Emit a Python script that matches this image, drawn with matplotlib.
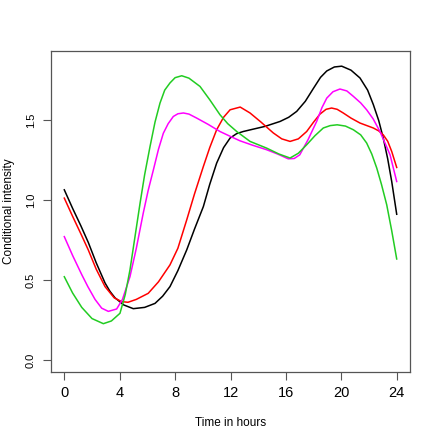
import matplotlib
matplotlib.use("Agg")
import matplotlib.pyplot as plt

# values (hours, intensity)
black_t = [0, 0.6, 1.2, 1.74, 2.3, 2.94, 3.3, 3.66, 4.3, 4.98, 5.8, 6.55, 7.1, 7.63, 8.2,
           8.84, 9.4, 10.04, 10.5, 11.0, 11.5, 11.97, 12.45, 12.92, 13.6, 14.49, 15.58,
           16.2, 16.78, 17.4, 17.98, 18.5, 18.95, 19.5, 20.03, 20.7, 21.35, 21.9, 22.31,
           22.7, 23.03, 23.35, 23.64, 24]
black_v = [1.066, 0.95, 0.84, 0.735, 0.61, 0.483, 0.43, 0.39, 0.345, 0.322, 0.33, 0.355,
           0.40, 0.46, 0.56, 0.69, 0.82, 0.961, 1.10, 1.233, 1.33, 1.39, 1.418, 1.431,
           1.445, 1.463, 1.494, 1.52, 1.557, 1.62, 1.70, 1.77, 1.81, 1.835, 1.84, 1.815,
           1.766, 1.69, 1.60, 1.50, 1.39, 1.26, 1.118, 0.913]

red_t = [0, 0.6, 1.2, 1.73, 2.3, 2.94, 3.6, 4.14, 4.6, 5.2, 6.06, 6.8, 7.63, 8.2, 8.84, 9.4,
         10.04, 10.5, 11.0, 11.5, 11.97, 12.7, 13.41, 14.2, 15.09, 15.7, 16.3, 16.9, 17.5,
         18.0, 18.46, 18.9, 19.3, 19.7, 20.14, 20.7, 21.35, 22.31, 22.7, 23.03, 23.35,
         23.64, 24]
red_v = [1.014, 0.90, 0.79, 0.69, 0.57, 0.46, 0.39, 0.366, 0.362, 0.38, 0.418, 0.49, 0.596,
         0.70, 0.878, 1.04, 1.212, 1.33, 1.442, 1.52, 1.567, 1.584, 1.547, 1.49, 1.422,
         1.385, 1.369, 1.385, 1.431, 1.49, 1.54, 1.57, 1.578, 1.57, 1.547, 1.515, 1.484,
         1.453, 1.435, 1.41, 1.37, 1.306, 1.206]

magenta_t = [0, 0.6, 1.26, 1.7, 2.22, 2.7, 3.18, 3.78, 4.2, 4.74, 5.2, 5.7, 6.05, 6.43, 6.8,
             7.15, 7.5, 7.87, 8.2, 8.6, 9.0, 9.56, 10.4, 11.24, 12.0, 12.68, 13.6, 14.61,
             15.4, 16.17, 16.6, 17.0, 17.6, 18.22, 18.6, 18.95, 19.4, 19.9, 20.4, 20.87,
             21.4, 21.83, 22.3, 22.79, 23.2, 23.52, 24]
magenta_v = [0.773, 0.655, 0.535, 0.46, 0.38, 0.325, 0.305, 0.32, 0.38, 0.522, 0.70, 0.92,
             1.06, 1.19, 1.32, 1.42, 1.48, 1.525, 1.542, 1.547, 1.54, 1.515, 1.475, 1.431,
             1.40, 1.373, 1.345, 1.317, 1.29, 1.26, 1.262, 1.285, 1.38, 1.494, 1.58, 1.64,
             1.68, 1.697, 1.685, 1.651, 1.61, 1.567, 1.51, 1.431, 1.35, 1.285, 1.118]

green_t = [0, 0.6, 1.26, 2.0, 2.82, 3.4, 4.02, 4.4, 4.74, 5.1, 5.47, 5.8, 6.19, 6.55, 6.91,
           7.25, 7.63, 8.0, 8.48, 9.0, 9.8, 10.5, 11.24, 11.8, 12.45, 13.41, 14.61, 15.5,
           16.3, 16.9, 17.5, 18.1, 18.7, 19.2, 19.7, 20.3, 20.87, 21.4, 21.83, 22.2, 22.56,
           22.9, 23.28, 23.64, 24]
green_v = [0.522, 0.42, 0.33, 0.26, 0.228, 0.245, 0.293, 0.41, 0.564, 0.77, 0.982, 1.16,
           1.337, 1.49, 1.609, 1.69, 1.735, 1.768, 1.78, 1.765, 1.713, 1.63, 1.536, 1.48,
           1.431, 1.369, 1.327, 1.29, 1.265, 1.295, 1.348, 1.405, 1.453, 1.468, 1.473,
           1.465, 1.442, 1.41, 1.359, 1.29, 1.202, 1.10, 0.972, 0.81, 0.633]

xticks = [0, 4, 8, 12, 16, 20, 24]
yticks = [0.0, 0.5, 1.0, 1.5]

plt.rcParams['font.family'] = ['Liberation Sans', 'DejaVu Sans']

fig = plt.figure(figsize=(4.36, 4.36), dpi=100)
ax = fig.add_axes([51 / 436, 1 - 372 / 436, (410 - 51) / 436, (372 - 51) / 436])

ax.plot(black_t, black_v, color='black', lw=1.1)
ax.plot(red_t, red_v, color='#FF0000', lw=1.1)
ax.plot(magenta_t, magenta_v, color='#FF00FF', lw=1.1)
ax.plot(green_t, green_v, color='#22CC22', lw=1.1)

ax.set_xlim(-0.96, 24.96)
ax.set_ylim(-0.0745, 1.935)

ax.set_xticks(xticks)
ax.set_xticklabels([str(x) for x in xticks], fontsize=10.5)
ax.set_yticks(yticks)
ax.set_yticklabels(['%.1f' % y for y in yticks], fontsize=8, rotation=90, va='center')

ax.tick_params(axis='x', length=6, width=0.8, pad=4, color='#555555')
ax.tick_params(axis='y', length=6, width=0.8, pad=5, color='#555555')
for s in ax.spines.values():
    s.set_color('#555555')
    s.set_linewidth(0.9)

ax.set_xlabel('Time in hours', fontsize=8.5, labelpad=12)
fig.text(9 / 436, 1 - 211.5 / 436, 'Conditional intensity', fontsize=8.5,
         rotation=90, ha='center', va='center')

fig.savefig('out.png', dpi=100)
